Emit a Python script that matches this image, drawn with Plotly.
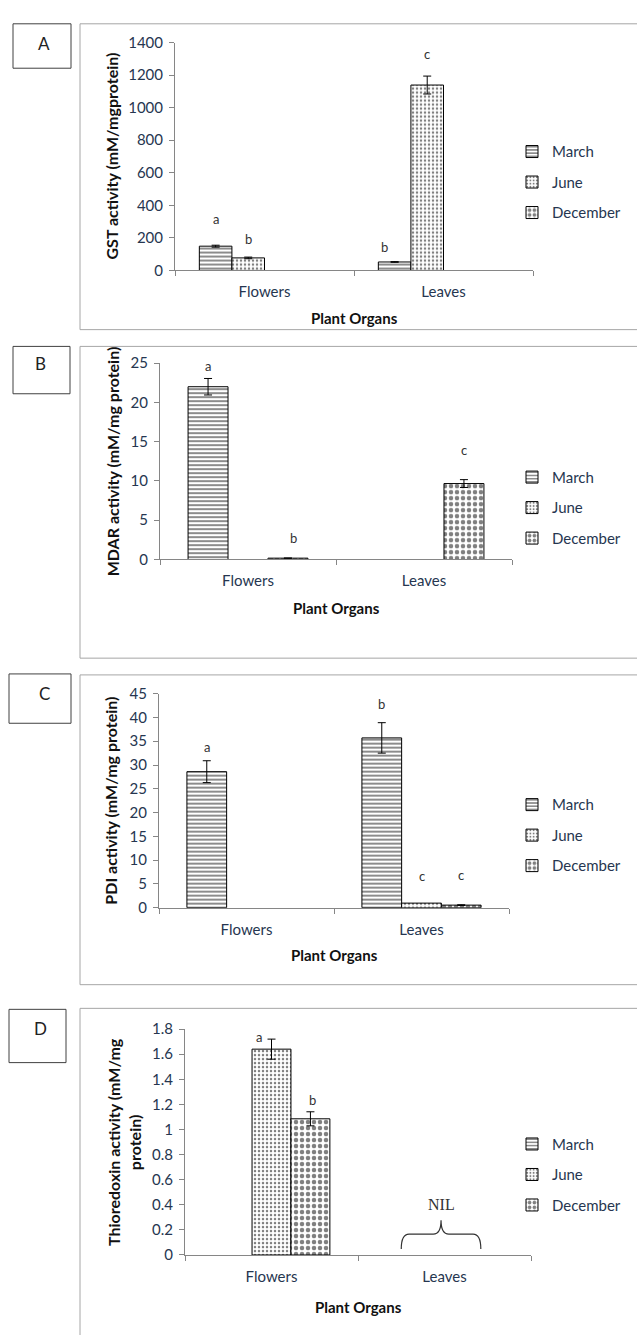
import plotly.graph_objects as go

# ---------------- data ----------------
categories = ["Flowers", "Leaves"]
series_names = ["March", "June", "December"]

# Panel A: GST activity
gst_march = [149, 52]
gst_march_err = [6, 2]
gst_june = [77, 1139]
gst_june_err = [5, 55]
gst_december = [None, None]
# (letter, category index, series index, value, horizontal nudge in category units)
gst_letters = [("a", 0, 0, 315, 0.0), ("b", 0, 1, 194, 0.0), ("b", 1, 0, 145, -0.055), ("c", 1, 1, 1329, 0.0)]

# Panel B: MDAR activity
mdar_march = [22.0, None]
mdar_march_err = [1.05, None]
mdar_june = [None, None]
mdar_december = [0.17, 9.67]
mdar_december_err = [None, 0.5]
mdar_letters = [("a", 0, 0, 24.6, 0.0), ("b", 0, 2, 2.7, 0.03), ("c", 1, 2, 13.9, 0.0)]

# Panel C: PDI activity
pdi_march = [28.6, 35.7]
pdi_march_err = [2.3, 3.2]
pdi_june = [None, 0.97]
pdi_december = [None, 0.55]
pdi_december_err = [None, 0.08]
pdi_letters = [("a", 0, 0, 33.7, 0.0), ("b", 1, 0, 42.9, 0.0), ("c", 1, 1, 6.6, 0.0), ("c", 1, 2, 6.8, 0.0)]

# Panel D: Thioredoxin activity
trx_march = [None, None]
trx_june = [1.64, None]
trx_june_err = [0.08, None]
trx_december = [1.085, None]
trx_december_err = [0.056, None]
trx_letters = [("a", 0, 1, 1.74, -0.075), ("b", 0, 2, 1.235, 0.01)]
nil_text = "NIL"
nil_level = 0.40
brace_levels = [0.047, 0.166, 0.276]  # ends, flat part, tip

y_titles = ["GST activity (mM/mgprotein)", "MDAR activity (mM/mg protein)",
            "PDI activity (mM/mg protein)", "Thioredoxin activity (mM/mg<br>protein)"]
panel_labels = ["A", "B", "C", "D"]
y_ranges = [[0, 1400], [0, 25], [0, 45], [0, 1.8]]
y_dticks = [200, 5, 5, 0.2]

# ---------------- layout geometry (pixels) ----------------
W, H = 637, 1335
def px(x):
    return x / W
def py(y):
    return 1 - y / H

# plot areas: (left, right, top, bottom)
areas = [(175, 533, 33, 264), (160, 512, 358, 557), (159, 509, 693, 910), (185, 531, 1033, 1262)]
frames = [(80, 14, 324), (80, 341, 657), (80, 674, 988), (80, 1012, 1345)]
label_boxes = [(13, 71, 14, 59), (13, 70, 341, 389), (9, 71, 673, 723), (9, 66, 1013, 1067)]
label_text_pos = [(44, 34), (40, 358), (44, 693), (40, 1032)]
legend_first = [138, 468, 800, 1144]
ytitle_x = [111, 112, 111, 124]
xtitle_drop = [48, 49, 48, 53]

# slot structure: (slot width, number of slots)
slots = [(0.182, 4), (0.227, 3), (0.227, 3), (0.225, 3)]

FONT = "Lato"
TXT = "#263650"
AXC = "#868686"

patterns = {
    "March": dict(shape="-", fgcolor="black", bgcolor="white", size=4, solidity=0.45),
    "June": dict(shape=".", fgcolor="black", bgcolor="white", size=4, solidity=0.3),
    "December": dict(shape=".", fgcolor="black", bgcolor="white", size=6, solidity=0.45),
}

panels = [
    ([gst_march, gst_june, gst_december], [gst_march_err, gst_june_err, None], gst_letters),
    ([mdar_march, mdar_june, mdar_december], [mdar_march_err, None, mdar_december_err], mdar_letters),
    ([pdi_march, pdi_june, pdi_december], [pdi_march_err, None, pdi_december_err], pdi_letters),
    ([trx_march, trx_june, trx_december], [None, trx_june_err, trx_december_err], trx_letters),
]

fig = go.Figure()
shapes = []
annotations = []
layout_axes = {}

for p, (vals, errs, letters) in enumerate(panels):
    suffix = "" if p == 0 else str(p + 1)
    xa, ya = "x" + suffix, "y" + suffix
    legname = "legend" if p == 0 else "legend" + str(p + 1)
    sw, ns = slots[p]
    start = -sw * ns / 2
    for s, name in enumerate(series_names):
        err = errs[s]
        fig.add_trace(go.Bar(
            x=categories, y=vals[s], name=name,
            xaxis=xa, yaxis=ya, legend=legname, legendgroup=f"{p}{name}",
            width=sw, offset=start + s * sw,
            marker=dict(color="white", pattern=patterns[name], line=dict(color="black", width=1)),
            error_y=dict(type="data", array=err, visible=err is not None,
                         color="black", thickness=1, width=4),
        ))
    for (txt, ci, si, yv, nudge) in letters:
        annotations.append(dict(x=ci + start + (si + 0.5) * sw + nudge, y=yv, xref=xa, yref=ya,
                                xanchor="center", yanchor="middle",
                                text=txt, showarrow=False, font=dict(family=FONT, size=13, color="#333")))

    l, r, t, b = areas[p]
    layout_axes["xaxis" + suffix] = dict(
        domain=[px(l), px(r)], anchor=ya, type="category", range=[-0.5, 1.5],
        showline=True, linecolor=AXC, linewidth=1, ticks="outside", ticklen=5, tickcolor=AXC,
        tickson="boundaries", showgrid=False, tickfont=dict(family=FONT, size=15, color=TXT),
        ticklabelstandoff=8, fixedrange=True)
    layout_axes["yaxis" + suffix] = dict(
        domain=[py(b), py(t)], anchor=xa, range=y_ranges[p], dtick=y_dticks[p],
        showline=True, linecolor=AXC, linewidth=1, ticks="outside", ticklen=5, tickcolor=AXC,
        showgrid=False, zeroline=False, tickfont=dict(family=FONT, size=15, color=TXT),
        ticklabelstandoff=3, fixedrange=True)

    # y-title
    annotations.append(dict(x=px(ytitle_x[p]), y=py((t + b) / 2), xref="paper", yref="paper",
                            xanchor="center", yanchor="middle",
                            text=y_titles[p], textangle=-90, showarrow=False,
                            font=dict(family=FONT, size=16, color="#111", weight="bold")))
    # x-title
    annotations.append(dict(x=px((l + r) / 2), y=py(b + xtitle_drop[p]), xref="paper", yref="paper",
                            xanchor="center", yanchor="middle",
                            text="Plant Organs", showarrow=False,
                            font=dict(family=FONT, size=15, color="#111", weight="bold")))
    # frame
    fl, ft, fb = frames[p]
    shapes.append(dict(type="rect", xref="paper", yref="paper", x0=px(fl), x1=1.3,
                       y0=py(fb), y1=py(ft), line=dict(color="#A6A6A6", width=1)))
    bl, br, bt, bb = label_boxes[p]
    shapes.append(dict(type="rect", xref="paper", yref="paper", x0=px(bl), x1=px(br),
                       y0=py(bb), y1=py(bt), line=dict(color="#404040", width=1)))
    tx, ty = label_text_pos[p]
    annotations.append(dict(x=px(tx), y=py(ty), xref="paper", yref="paper", text=panel_labels[p],
                            xanchor="center", yanchor="middle",
                            showarrow=False, font=dict(family=FONT, size=17, color="#222")))
    # legend
    layout_axes[legname] = dict(x=px(512), y=py(legend_first[p] - 11), xanchor="left", yanchor="top",
                                font=dict(family=FONT, size=15, color=TXT), bgcolor="rgba(0,0,0,0)",
                                tracegroupgap=8, itemwidth=30)

# NIL brace on panel D (Leaves)
nil_x = 1 - 0.02
half = 0.23
rad = 0.045
y_end, y_flat, y_tip = brace_levels
brace = (f"M {nil_x - half},{y_end} Q {nil_x - half},{y_flat} {nil_x - half + rad},{y_flat} "
         f"L {nil_x - rad},{y_flat} Q {nil_x},{y_flat} {nil_x},{y_tip} "
         f"Q {nil_x},{y_flat} {nil_x + rad},{y_flat} L {nil_x + half - rad},{y_flat} "
         f"Q {nil_x + half},{y_flat} {nil_x + half},{y_end}")
shapes.append(dict(type="path", xref="x4", yref="y4", path=brace, line=dict(color="#333", width=1.2)))
annotations.append(dict(x=nil_x, y=nil_level, xref="x4", yref="y4", text=nil_text, showarrow=False,
                        xanchor="center", yanchor="middle",
                        font=dict(family="Liberation Serif", size=16, color="#333")))

fig.update_layout(
    width=W, height=H, margin=dict(l=0, r=0, t=0, b=0),
    paper_bgcolor="white", plot_bgcolor="white", barmode="overlay",
    shapes=shapes, annotations=annotations, showlegend=True,
    **layout_axes,
)

fig.write_html("out.html", config={"displayModeBar": False},
               post_script="document.body.style.margin='0';")
